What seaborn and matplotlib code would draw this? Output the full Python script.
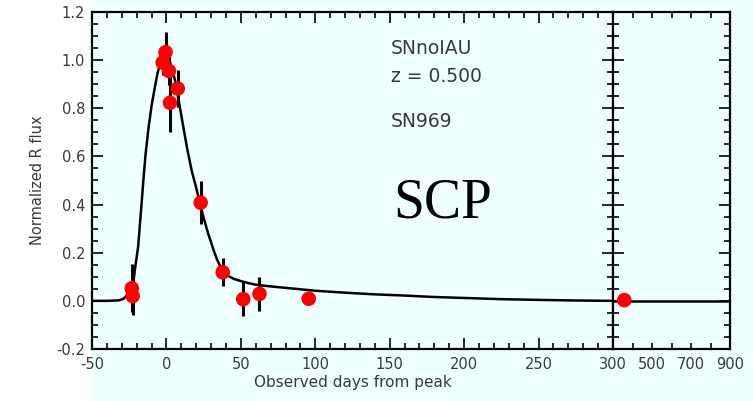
import numpy as np
import pandas as pd
import seaborn as sns
import matplotlib.pyplot as plt
from matplotlib.patches import Rectangle
from matplotlib.ticker import MultipleLocator

# ---- data ----
obs_days = [-23.3, -22.7, -2.5, -0.6, 1.7, 2.4, 7.6, 23.0, 37.8, 51.6, 62.5, 95.6]
obs_flux = [0.052, 0.020, 0.990, 1.033, 0.955, 0.823, 0.882, 0.408, 0.119, 0.007, 0.029, 0.009]
obs_err = [0.100, 0.080, 0.050, 0.085, 0.060, 0.120, 0.078, 0.090, 0.058, 0.070, 0.072, 0.020]

late_days = [358.0]
late_flux = [0.003]
late_err = [0.020]

fit_days = [-50, -40, -32, -29, -27, -25, -23.5, -22, -20.5, -19, -17, -15.5, -14, -12, -10,
            -8, -6, -4, -2, 0, 2, 4, 6, 8, 10, 12, 14, 17, 20, 22.5, 25, 28, 30, 32, 34, 36,
            38, 40, 42, 45, 50, 55, 60, 70, 80, 90, 100, 120, 140, 160, 180, 200, 225, 250,
            275, 300]
fit_flux = [0.0, 0.0, 0.002, 0.008, 0.02, 0.035, 0.06, 0.09, 0.16, 0.225, 0.38, 0.50, 0.61,
            0.72, 0.81, 0.88, 0.945, 0.99, 1.02, 1.02, 1.0, 0.96, 0.91, 0.84, 0.77, 0.70, 0.63,
            0.54, 0.47, 0.405, 0.345, 0.28, 0.243, 0.205, 0.172, 0.145, 0.125, 0.111, 0.102,
            0.092, 0.082, 0.074, 0.067, 0.06, 0.054, 0.048, 0.042, 0.034, 0.027, 0.022, 0.016,
            0.012, 0.007, 0.004, 0.0015, 0.0]

late_fit_days = [300, 900]
late_fit_flux = [0.0, 0.0]

left_ticks = [-50, 0, 50, 100, 150, 200, 250, 300]
left_labels = ['-50', '0', '50', '100', '150', '200', '250', '300']
right_ticks = [300, 400, 500, 600, 700, 800, 900]
right_labels = ['', '', '500', '', '700', '', '900']
y_ticks = [-0.2, 0.0, 0.2, 0.4, 0.6, 0.8, 1.0, 1.2]
y_labels = ['-0.2', '0.0', '0.2', '0.4', '0.6', '0.8', '1.0', '1.2']

sns.set_style("ticks")
plt.rcParams['font.family'] = ['DejaVu Sans']

BG = '#F0FFFF'
TXT = '#3a3a3a'
W, H = 753, 401

fig = plt.figure(figsize=(7.53, 4.01), dpi=100)
fig.patch.set_facecolor('white')
fig.patches.append(Rectangle((92 / W, 0), 1, 1, transform=fig.transFigure,
                             facecolor=BG, edgecolor='none', zorder=-10))

ax = fig.add_axes([92 / W, 1 - 349 / H, 521 / W, 337 / H])
ax2 = fig.add_axes([613 / W, 1 - 349 / H, 117 / W, 337 / H], sharey=ax)

for a in (ax, ax2):
    a.set_facecolor(BG)
    for s in a.spines.values():
        s.set_linewidth(1.6)
        s.set_color('black')

# main panel
df_fit = pd.DataFrame({'day': fit_days, 'flux': fit_flux})
df_obs = pd.DataFrame({'day': obs_days, 'flux': obs_flux, 'err': obs_err})
sns.lineplot(data=df_fit, x='day', y='flux', ax=ax, color='black', lw=1.8, zorder=2)
ax.errorbar(df_obs['day'], df_obs['flux'], yerr=df_obs['err'], fmt='none',
            ecolor='black', elinewidth=2.2, capsize=0, zorder=3)
sns.scatterplot(data=df_obs, x='day', y='flux', ax=ax, color='red', s=110,
                edgecolor='none', zorder=4)

ax.set_xlim(-50, 300)
ax.set_ylim(-0.2, 1.2)
ax.set_xticks(left_ticks)
ax.set_xticklabels(left_labels)
ax.xaxis.set_minor_locator(MultipleLocator(10))
ax.set_yticks(y_ticks)
ax.set_yticklabels(y_labels)
ax.yaxis.set_minor_locator(MultipleLocator(0.05))
ax.tick_params(which='both', direction='in', top=True, right=True, width=1.4,
               labelsize=10.5, labelcolor=TXT)
ax.tick_params(axis='x', which='both', pad=6)
ax.tick_params(axis='y', which='both', pad=5)
ax.tick_params(which='major', length=8)
ax.tick_params(which='minor', length=4)
ax.set_xlabel('Observed days from peak', fontsize=11, color=TXT, labelpad=2)
ax.set_ylabel('Normalized R flux', fontsize=10.5, color=TXT, labelpad=8)

for txt, ypix in [('SNnoIAU', 48), ('z = 0.500', 76), ('SN969', 122)]:
    fig.text(391 / W, 1 - ypix / H, txt, fontsize=13.5, color=TXT,
             va='center', ha='left')

# right panel (late epochs)
df_late_fit = pd.DataFrame({'day': late_fit_days, 'flux': late_fit_flux})
df_late = pd.DataFrame({'day': late_days, 'flux': late_flux, 'err': late_err})
sns.lineplot(data=df_late_fit, x='day', y='flux', ax=ax2, color='black', lw=1.8, zorder=2)
ax2.errorbar(df_late['day'], df_late['flux'], yerr=df_late['err'], fmt='none',
             ecolor='black', elinewidth=2.2, capsize=0, zorder=3)
sns.scatterplot(data=df_late, x='day', y='flux', ax=ax2, color='red', s=110,
                edgecolor='none', zorder=4)
ax2.set_xlim(300, 900)
ax2.set_xticks(right_ticks)
ax2.set_xticklabels(right_labels)
ax2.tick_params(which='both', direction='in', top=True, right=True, left=True,
                width=1.4, labelsize=10.5, labelcolor=TXT, labelleft=False)
ax2.tick_params(axis='x', which='both', pad=6, length=4)
ax2.tick_params(axis='y', which='major', length=8)
ax2.tick_params(axis='y', which='minor', length=4)
ax2.set_xlabel('')
ax2.set_ylabel('')

fig.text(393 / W, 1 - 203 / H, 'SCP', fontsize=40, family='Liberation Serif',
         color='black', va='center', ha='left')

fig.savefig('out.png', dpi=100, facecolor=fig.get_facecolor())
